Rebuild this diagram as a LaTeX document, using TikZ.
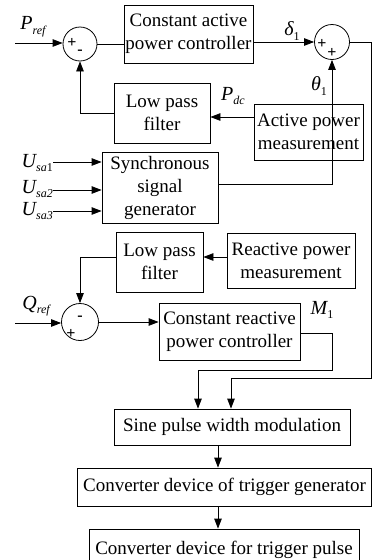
\documentclass[tikz,border=0pt]{standalone}
\usepackage{fontspec}
\setmainfont{Liberation Serif}
\usetikzlibrary{arrows.meta}
\newcommand{\lbsub}[1]{\raisebox{-0.5ex}{\fontsize{12}{12}\selectfont\itshape #1}}
\tikzset{
  wire/.style={line width=0.8pt},
  arr/.style={wire,-{Triangle[length=10pt,width=7.5pt]}},
  blk/.style={draw, line width=0.8pt, align=center, inner sep=0pt,
     font=\fontsize{19}{23}\selectfont},
  sumj/.style={draw, line width=0.8pt, circle, inner sep=0pt, minimum size=#1},
  sgn/.style={font=\fontsize{16}{16}\selectfont\bfseries, inner sep=0pt},
  lbl/.style={font=\fontsize{20}{20}\selectfont, inner sep=0pt}
}
\begin{document}
\begin{tikzpicture}[x=1pt,y=-1pt]
\useasboundingbox (0,0) rectangle (372,560);
\clip (0,0) rectangle (372,560);
% summing junctions
\node[sumj=34pt] (j1) at (80,44) {};
\node[sumj=35pt] (j2) at (332,42) {};
\node[sumj=37pt] (j3) at (80,322) {};
\node[sgn] (j1p) at (72,43) {+};
\node[sgn] (j1m) at (80,52) {-};
\node[sgn] (j2p) at (322,44) {+};
\node[sgn] (j2q) at (332,53) {+};
\node[sgn] (j3m) at (80,318) {-};
\node[sgn] (j3p) at (71,334) {+};
% blocks
\node[blk, minimum width=129pt, minimum height=58pt] (capc) at (188.5,34) {Constant active\\power controller};
\node[blk, minimum width=96pt, minimum height=60pt] (lpf1) at (162,113) {Low pass\\filter};
\node[blk, minimum width=109pt, minimum height=56pt] (apm) at (308.5,132) {Active power\\measurement};
\node[blk, minimum width=116pt, minimum height=71pt] (ssg) at (160,187.5) {Synchronous\\signal\\generator};
\node[blk, minimum width=87pt, minimum height=60pt] (lpf2) at (159.5,262) {Low pass\\filter};
\node[blk, minimum width=128pt, minimum height=55pt] (rpm) at (291,260.5) {Reactive power\\measurement};
\node[blk, minimum width=141pt, minimum height=57pt] (crpc) at (229.5,331.5) {Constant reactive\\power controller};
\node[blk, minimum width=236pt, minimum height=36pt] (spwm) at (232,427) {Sine pulse width modulation};
\node[blk, minimum width=294pt, minimum height=38pt] (cdtg) at (224.5,487) {Converter device of trigger generator};
\node[blk, minimum width=270pt, minimum height=42pt] (cdtp) at (224,550) {Converter device for trigger pulse};
% labels
\node[lbl] (pref) at (33,27) {\itshape P\lbsub{ref}};
\node[lbl] (qref) at (36,306) {\itshape Q\lbsub{ref}};
\node[lbl] (d1) at (292,31) {\itshape δ\lbsub{\upshape 1}};
\node[lbl] (th1) at (319,86) {\itshape θ\lbsub{\upshape 1}};
\node[lbl] (pdc) at (233,96) {\itshape P\lbsub{dc}};
\node[lbl] (m1) at (322,310) {\itshape M\lbsub{\upshape 1}};
\node[lbl, anchor=east] (u1) at (53,163) {\itshape U\lbsub{sa\upshape 1}};
\node[lbl, anchor=east] (u2) at (53,189) {\itshape U\lbsub{sa2}};
\node[lbl, anchor=east] (u3) at (53,211) {\itshape U\lbsub{sa3}};
% coordinates
\coordinate (prefin) at (15,43);
\coordinate (qrefin) at (15,323);
\coordinate (u1s) at (53,162);
\coordinate (u2s) at (53,190);
\coordinate (u3s) at (53,211);
\coordinate (c1) at (371,42);
\coordinate (c2) at (371,378);
\coordinate (c3) at (231,378);
\coordinate (m1a) at (332,333);
\coordinate (m1b) at (332,370);
\coordinate (m1c) at (198,370);
% wires
\draw[arr] (prefin) -- (prefin -| j1.west);
\draw[wire] (j1.east) -- (j1.east -| capc.west);
\draw[arr] (capc.east |- j2.west) -- (j2.west);
\draw[arr] (j2.east) -- (c1) -- (c2) -- (c3) -- (c3 |- spwm.north);
\draw[arr] (lpf1.west) -- (lpf1.west -| j1.south) -- (j1.south);
\draw[arr] (apm.west |- 0,117) -- (lpf1.east |- 0,117);
\draw[arr] (ssg.east |- 0,184) -- (j2.south |- 0,184) -- (j2.south);
\draw[arr] (u1s) -- (u1s -| ssg.west);
\draw[arr] (u2s) -- (u2s -| ssg.west);
\draw[arr] (u3s) -- (u3s -| ssg.west);
\draw[arr] (rpm.west |- 0,257) -- (lpf2.east |- 0,257);
\draw[arr] (lpf2.west |- 0,257) -- (j3.north |- 0,257) -- (j3.north);
\draw[arr] (qrefin) -- (qrefin -| j3.west);
\draw[arr] (j3.east) -- (j3.east -| crpc.west);
\draw[arr] (crpc.east |- m1a) -- (m1a) -- (m1b) -- (m1c) -- (m1c |- spwm.north);
\draw[arr] (spwm.south -| 218,0) -- (cdtg.north -| 218,0);
\draw[arr] (cdtg.south -| 218,0) -- (cdtp.north -| 218,0);
\end{tikzpicture}
\end{document}
